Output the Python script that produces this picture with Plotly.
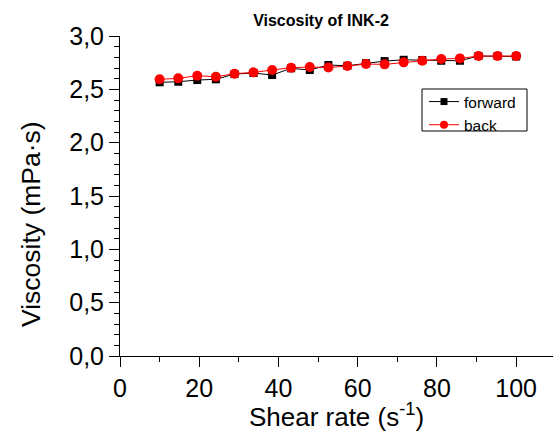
import plotly.graph_objects as go

shear_rate = [10.0, 14.7, 19.5, 24.2, 28.9, 33.7, 38.4, 43.2, 47.9, 52.6,
              57.4, 62.1, 66.8, 71.6, 76.3, 81.1, 85.8, 90.5, 95.3, 100.0]
forward = [2.566, 2.571, 2.587, 2.594, 2.643, 2.653, 2.634, 2.697, 2.681, 2.728,
           2.721, 2.745, 2.765, 2.777, 2.775, 2.768, 2.768, 2.812, 2.812, 2.808]
back = [2.594, 2.603, 2.628, 2.618, 2.646, 2.659, 2.681, 2.703, 2.709, 2.705,
        2.718, 2.737, 2.734, 2.753, 2.768, 2.784, 2.790, 2.812, 2.812, 2.812]
series_names = ["forward", "back"]

FONT = "Liberation Sans, Arial, sans-serif"
L, R, T, B, W, H = 120, 1, 36, 76, 554, 432
PW, PH = W - L - R, H - T - B


def px_x(p):
    return (p - L) / PW


def px_y(p):
    return (H - B - p) / PH


fig = go.Figure()
fig.add_trace(go.Scatter(x=shear_rate, y=forward, mode="lines+markers", name=series_names[0],
                         line=dict(color="black", width=1), showlegend=False,
                         marker=dict(symbol="square", size=8, color="black")))
fig.add_trace(go.Scatter(x=shear_rate, y=back, mode="lines+markers", name=series_names[1],
                         line=dict(color="red", width=1), showlegend=False,
                         marker=dict(symbol="circle", size=10, color="red")))
# legend entries (smaller symbols, as in the reference legend)
fig.add_trace(go.Scatter(x=[None], y=[None], mode="lines+markers", name=series_names[0],
                         line=dict(color="black", width=1),
                         marker=dict(symbol="square", size=7, color="black")))
fig.add_trace(go.Scatter(x=[None], y=[None], mode="lines+markers", name=series_names[1],
                         line=dict(color="red", width=1),
                         marker=dict(symbol="circle", size=8, color="red")))

fig.update_layout(
    width=W, height=H,
    margin=dict(l=L, r=R, t=T, b=B),
    paper_bgcolor="white", plot_bgcolor="white",
    separators=", ",
    font=dict(family=FONT, color="black"),
    title=dict(text="<b>Viscosity of INK-2</b>", x=321/554, xanchor="center",
               y=1-20/432, yanchor="middle", yref="container", automargin=False,
               font=dict(size=16, family=FONT, color="black")),
    legend=dict(x=px_x(424), xanchor="left", y=px_y(85), yanchor="top",
                borderwidth=0, bgcolor="rgba(0,0,0,0)",
                font=dict(size=15.5, family=FONT), tracegroupgap=0),
    showlegend=True,
    shapes=[dict(type="rect", xref="paper", yref="paper",
                 x0=px_x(422), x1=px_x(527), y0=px_y(131), y1=px_y(89),
                 line=dict(color="black", width=1), fillcolor="rgba(0,0,0,0)")],
    annotations=[dict(text="Viscosity (mPa·s)", xref="paper", yref="paper",
                      x=px_x(31), y=px_y(224), xanchor="center", yanchor="middle",
                      textangle=-90, showarrow=False, font=dict(size=26.5, family=FONT))],
)
fig.update_xaxes(range=[0, 109.3], dtick=20, tick0=0, showline=True, linecolor="black",
                 linewidth=1, ticks="outside", ticklen=10, tickcolor="black",
                 showgrid=False, zeroline=False, tickfont=dict(size=25), automargin=False,
                 minor=dict(dtick=10, ticks="outside", ticklen=5, tickcolor="black"),
                 title=dict(text="Shear rate (s<sup>-1</sup>)", font=dict(size=26), standoff=0))
fig.update_yaxes(range=[0, 3.0], dtick=0.5, tick0=0, tickformat=".1f", showline=True,
                 linecolor="black", linewidth=1, ticks="outside", ticklen=10,
                 tickcolor="black", showgrid=False, zeroline=False, tickfont=dict(size=25),
                 automargin=False,
                 minor=dict(dtick=0.1, ticks="outside", ticklen=5, tickcolor="black"))

fig.write_html("out.html", config={"displayModeBar": False},
               post_script="document.body.style.margin='0';document.body.style.overflow='hidden';")
